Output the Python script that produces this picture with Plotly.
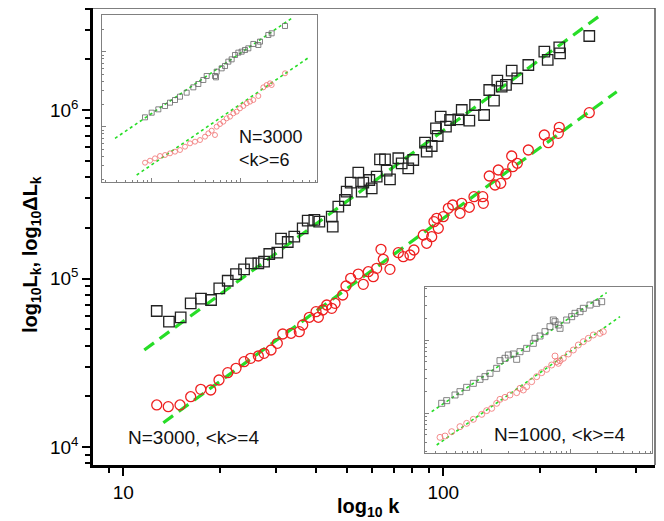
import plotly.graph_objects as go

# ---------------- main panel data (N=3000, <k>=4) ----------------
k_sq = [12.72, 13.89, 15.11, 16.24, 17.49, 18.80, 19.95, 21.20, 22.50, 23.84, 25.06, 26.42,
        27.53, 28.59, 30.29, 31.11, 32.65, 34.22, 36.36, 37.70, 39.54, 40.99, 44.81, 45.13,
        46.98, 49.29, 49.90, 51.35, 54.25, 55.59, 56.23, 58.72, 59.74, 61.93, 63.41, 65.73,
        66.54, 68.13, 72.35, 74.13, 77.71, 80.57, 87.67, 88.74, 92.00, 94.89, 96.05, 98.14,
        101.9, 105.0, 111.4, 114.2, 120.6, 125.7, 134.1, 139.2, 144.0, 147.5, 152.2, 157.0,
        163.6, 170.3, 184.4, 206.9, 212.0, 230.4, 231.6, 285.9]
L_sq = [64150, 55400, 58860, 71260, 75900, 74560, 87470, 97000, 106300, 113400, 123100, 123100,
        125800, 139800, 142300, 172300, 164700, 177000, 198600, 220300, 222500, 217400, 232800, 203000,
        266800, 292400, 327500, 370300, 424500, 327500, 370300, 384300, 343100, 401900, 509900, 509900,
        436300, 387900, 517000, 482800, 450800, 505100, 639600, 565600, 611400, 778800, 701000, 912600,
        796000, 872400, 880700, 1000000, 864000, 1071000, 934000, 1314000, 1136000, 1492000, 1375000, 1408000,
        1711000, 1542000, 1850000, 2218000, 1981000, 2356000, 2170000, 2749000]

k_ci = [12.72, 13.82, 15.04, 16.24, 17.46, 18.76, 19.91, 21.20, 22.50, 23.84, 25.00, 26.42,
        27.53, 28.95, 30.29, 31.49, 33.43, 35.48, 36.36, 38.14, 40.02, 40.69, 42.00, 43.22,
        44.81, 45.88, 48.49, 49.65, 51.35, 54.25, 56.23, 58.29, 60.42, 61.93, 63.87, 64.94,
        68.13, 72.35, 74.99, 78.69, 80.96, 86.60, 88.74, 92.00, 93.52, 95.37, 96.47, 100.0,
        103.7, 107.0, 112.8, 114.2, 120.6, 124.7, 132.8, 133.4, 139.2, 145.1, 148.6, 151.2,
        157.0, 163.6, 164.8, 170.3, 184.4, 206.9, 212.9, 228.8, 230.4, 285.9]
dL_ci = [17760, 17350, 17760, 19880, 22000, 21790, 24990, 27610, 29310, 32080, 33600, 34670,
         35980, 37640, 41250, 46850, 47300, 48350, 52970, 58860, 63530, 58860, 65030, 69610,
         66550, 71260, 79830, 90260, 100300, 106300, 92380, 109700, 102500, 114900, 149000, 130000,
         113400, 142300, 134700, 137900, 147600, 181200, 161800, 177000, 217400, 227700, 198600, 232800,
         261000, 273000, 243800, 279400, 264600, 305900, 305900, 279400, 405700, 358900, 440500, 367300,
         417100, 533400, 460900, 482800, 578900, 710600, 639600, 727300, 789500, 963800]

fit_k_sq = [11.63, 307.3]
fit_L_sq = [37640, 3613000]
fit_k_ci = [13.34, 348.3]
fit_L_ci = [13940, 1284000]

# ---------------- inset 1 (N=3000, <k>=6) ----------------
i1_k_sq = [8.41, 10.0, 11.88, 14.13, 16.08, 18.31, 20.84, 24.79, 29.47, 33.56, 38.20, 41.67,
           51.71, 53.08, 54.01, 61.49, 67.06, 73.11, 79.71, 86.90, 94.78, 103.3, 112.7, 122.9,
           139.9, 159.3, 166.3, 206.5, 225.2, 318.3]
i1_L_sq = [133300, 153800, 170400, 188800, 209200, 227000, 251500, 284300, 334900, 370900, 419500, 474300,
           474300, 455200, 541700, 600000, 644700, 736300, 791000, 903700, 970700, 1001000, 1054000, 1109000,
           1267000, 1228000, 1361000, 1670000, 1757000, 2201000]
i1_k_ci = [8.41, 9.57, 10.89, 12.40, 14.13, 16.08, 18.31, 20.84, 23.74, 27.03, 30.77, 35.04,
           39.90, 43.51, 47.45, 51.71, 54.01, 58.88, 64.21, 70.01, 76.34, 83.25, 90.77, 98.97,
           107.9, 117.7, 128.3, 139.9, 159.3, 181.4, 197.8, 215.7, 225.2, 318.3]
i1_dL_ci = [33150, 35250, 37860, 40680, 41950, 44150, 46470, 48910, 54180, 60000, 63150, 66470,
            73630, 81560, 88520, 77500, 100100, 108600, 116700, 129300, 136100, 150800, 158700, 175800,
            188800, 204900, 215700, 227000, 256700, 334900, 359700, 378600, 359700, 514900]
i1_fit_k_sq = [3.86, 378.4]
i1_fit_L_sq = [69980, 2786000]
i1_fit_k_ci = [6.77, 609.0]
i1_fit_L_ci = [22700, 858600]

# ---------------- inset 2 (N=1000, <k>=4) ----------------
i2_k_sq = [3.54, 4.03, 5.00, 5.69, 6.77, 8.05, 9.57, 10.89, 12.40, 14.75, 16.08, 18.31,
           19.97, 22.73, 24.79, 27.03, 32.14, 38.20, 39.90, 45.44, 51.71, 58.88, 64.21, 67.06,
           73.11, 76.34, 90.77, 103.3, 112.7, 128.3, 139.9, 166.3, 197.8, 225.2]
i2_L_sq = [135700, 147600, 176500, 196000, 224700, 254900, 289200, 314600, 349400, 409200, 521200, 561000,
           623100, 643100, 543600, 692100, 768900, 900300, 1054000, 1134000, 1301000, 1522000, 1879000, 1783000,
           1605000, 1445000, 1879000, 2087000, 2319000, 2444000, 2716000, 3016000, 3178000, 3350000]
i2_k_ci = [3.39, 3.86, 4.59, 5.69, 6.77, 8.05, 10.0, 11.38, 12.96, 14.75, 16.08, 18.31,
           20.84, 24.79, 27.03, 29.47, 32.14, 36.59, 41.67, 47.45, 54.01, 61.49, 67.06, 70.01,
           73.11, 76.34, 83.25, 94.78, 107.9, 122.9, 139.9, 159.3, 181.4, 215.7, 235.1]
i2_dL_ci = [46420, 48400, 55510, 65000, 72190, 81880, 95880, 107700, 115900, 135700, 153900, 163900,
            176500, 189900, 217700, 206600, 229500, 268700, 314600, 356900, 396500, 454500, 603700, 504900,
            479000, 521200, 561000, 643100, 729500, 854300, 948900, 1054000, 1171000, 1234000, 1301000]
i2_fit_k_sq = [2.73, 256.4]
i2_fit_L_sq = [104300, 4449000]
i2_fit_k_ci = [3.11, 362.4]
i2_fit_L_ci = [36440, 2087000]

main_xticks = [10, 100]
main_xticktext = ["10", "100"]
main_yticks = [1e4, 1e5, 1e6]
main_yticktext = ["10<sup>4</sup>", "10<sup>5</sup>", "10<sup>6</sup>"]

FONT = "Liberation Sans, Arial, sans-serif"
GREEN = "#27dd27"
BLACK_M = "#222222"
RED_M = "#ee2020"

# The page body has an 8px default margin; the figure is sized to fill the rest of the window.
FIG_W, FIG_H = 656, 513
PL, PT = 85, 0          # plot-area left/top inside the figure
PW, PH = 562, 457       # plot-area size


def px(xp):
    """window x pixel -> paper fraction"""
    return (xp - 8 - PL) / PW


def py(yp):
    """window y pixel -> paper fraction"""
    return (PT + PH - (yp - 8)) / PH


fig = go.Figure()

fig.add_trace(go.Scatter(x=fit_k_sq, y=fit_L_sq, mode="lines",
                         line=dict(color=GREEN, width=3.2, dash="12px,7px"), xaxis="x", yaxis="y"))
fig.add_trace(go.Scatter(x=fit_k_ci, y=fit_L_ci, mode="lines",
                         line=dict(color=GREEN, width=3.2, dash="12px,7px"), xaxis="x", yaxis="y"))
fig.add_trace(go.Scatter(x=k_sq, y=L_sq, mode="markers",
                         marker=dict(symbol="square-open", size=10.5, color=BLACK_M, line=dict(width=1.3, color=BLACK_M)),
                         xaxis="x", yaxis="y"))
fig.add_trace(go.Scatter(x=k_ci, y=dL_ci, mode="markers",
                         marker=dict(symbol="circle-open", size=10, color=RED_M, line=dict(width=1.3, color=RED_M)),
                         xaxis="x", yaxis="y"))

for (xa, ya, ksq, lsq, kci, lci, fks, fls, fkc, flc, ms) in [
    ("x2", "y2", i1_k_sq, i1_L_sq, i1_k_ci, i1_dL_ci, i1_fit_k_sq, i1_fit_L_sq, i1_fit_k_ci, i1_fit_L_ci, 5),
    ("x3", "y3", i2_k_sq, i2_L_sq, i2_k_ci, i2_dL_ci, i2_fit_k_sq, i2_fit_L_sq, i2_fit_k_ci, i2_fit_L_ci, 6),
]:
    fig.add_trace(go.Scatter(x=fks, y=fls, mode="lines", line=dict(color=GREEN, width=1.6, dash="dot"),
                             xaxis=xa, yaxis=ya))
    fig.add_trace(go.Scatter(x=fkc, y=flc, mode="lines", line=dict(color=GREEN, width=1.6, dash="dot"),
                             xaxis=xa, yaxis=ya))
    fig.add_trace(go.Scatter(x=ksq, y=lsq, mode="markers",
                             marker=dict(symbol="square-open", size=ms, color="#666666", line=dict(width=0.8, color="#666666")),
                             xaxis=xa, yaxis=ya))
    fig.add_trace(go.Scatter(x=kci, y=lci, mode="markers",
                             marker=dict(symbol="circle-open", size=ms, color="#f07070", line=dict(width=0.8, color="#f07070")),
                             xaxis=xa, yaxis=ya))

main_axis_common = dict(type="log", showline=True, linecolor="black", linewidth=2.5, mirror=False,
                        ticks="outside", ticklen=8, tickwidth=2, tickcolor="black", showgrid=False, zeroline=False,
                        tickfont=dict(family=FONT, size=19, color="black"),
                        minor=dict(ticks="outside", ticklen=5, tickwidth=1.5, tickcolor="black", dtick="D1", showgrid=False))

inset_common = dict(type="log", showline=True, linecolor="#808080", linewidth=1.3, mirror=True,
                    ticks="inside", ticklen=4, tickwidth=1, tickcolor="#808080", showticklabels=False,
                    showgrid=False, zeroline=False, dtick=1,
                    minor=dict(ticks="inside", ticklen=2, tickwidth=0.8, tickcolor="#808080", dtick="D1", showgrid=False))

fig.update_layout(
    width=FIG_W, height=FIG_H,
    margin=dict(l=PL, r=FIG_W - PL - PW, t=PT, b=FIG_H - PT - PH),
    paper_bgcolor="white", plot_bgcolor="white",
    showlegend=False,
    xaxis=dict(main_axis_common, range=[0.9053, 2.6616], domain=[0, 1],
               tickvals=main_xticks, ticktext=main_xticktext, anchor="y"),
    yaxis=dict(main_axis_common, range=[3.8932, 6.6053], domain=[0, 1],
               tickvals=main_yticks, ticktext=main_yticktext, anchor="x"),
    xaxis2=dict(inset_common, range=[0.4363, 2.8670], domain=[px(101.7), px(317.3)], anchor="y2"),
    yaxis2=dict(inset_common, range=[4.263, 6.489], domain=[py(182), py(15)], anchor="x2"),
    xaxis3=dict(inset_common, range=[0.3608, 2.92], domain=[px(425), px(652)], anchor="y3"),
    yaxis3=dict(inset_common, range=[4.452, 6.726], domain=[py(453), py(287)], anchor="x3"),
    font=dict(family=FONT, color="black"),
    shapes=[
        dict(type="line", xref="paper", yref="paper", x0=0, x1=1, y0=1, y1=1, line=dict(color="#555555", width=1.5)),
        dict(type="line", xref="paper", yref="paper", x0=1, x1=1, y0=0, y1=1, line=dict(color="#555555", width=1.5)),
    ],
    annotations=[
        dict(text="<b>log<sub>10</sub>L<sub>k</sub>, log<sub>10</sub>ΔL<sub>k</sub></b>", xref="paper", yref="paper",
             x=px(31), y=py(255), textangle=-90, showarrow=False, xanchor="center", yanchor="middle",
             font=dict(family=FONT, size=20, color="black")),
        dict(text="<b>log<sub>10</sub> k</b>", xref="paper", yref="paper",
             x=px(368), y=py(507), showarrow=False, xanchor="center", yanchor="middle",
             font=dict(family=FONT, size=20, color="black")),
        dict(text="N=3000, &lt;k&gt;=4", xref="paper", yref="paper",
             x=px(126), y=py(437), showarrow=False, xanchor="left", yanchor="middle",
             font=dict(family=FONT, size=19, color="#111111")),
        dict(text="N=3000", xref="paper", yref="paper",
             x=px(237), y=py(137), showarrow=False, xanchor="left", yanchor="middle",
             font=dict(family=FONT, size=18, color="#111111")),
        dict(text="&lt;k&gt;=6", xref="paper", yref="paper",
             x=px(237), y=py(160), showarrow=False, xanchor="left", yanchor="middle",
             font=dict(family=FONT, size=18, color="#111111")),
        dict(text="N=1000, &lt;k&gt;=4", xref="paper", yref="paper",
             x=px(492), y=py(434), showarrow=False, xanchor="left", yanchor="middle",
             font=dict(family=FONT, size=19, color="#111111")),
    ],
)

fig.write_html("out.html")
